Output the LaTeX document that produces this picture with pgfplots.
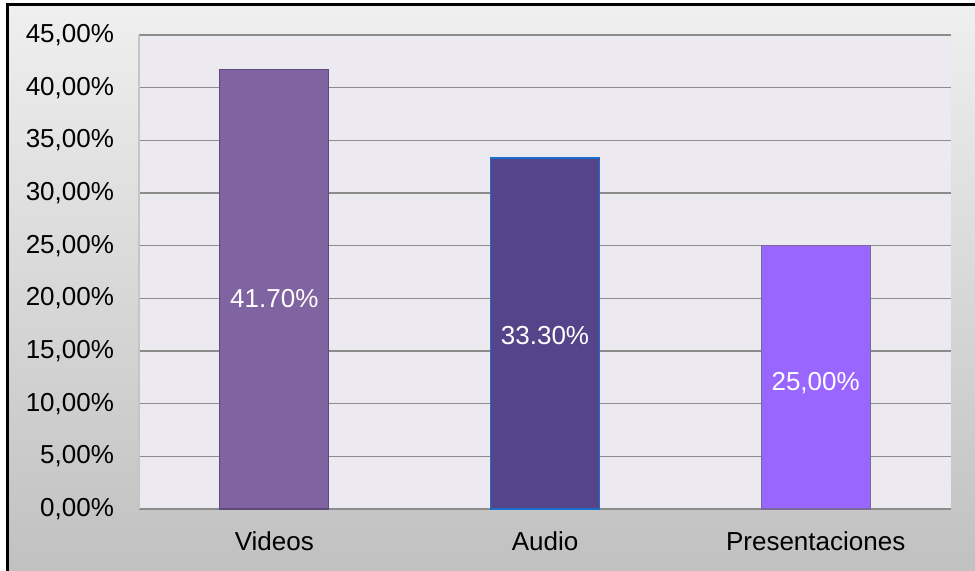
\documentclass[border=0pt]{standalone}
\usepackage{pgfplots}
\pgfplotsset{compat=1.18}
\usepackage{fontspec}
\setmainfont{Liberation Sans}
\definecolor{plotbg}{HTML}{ECEAF0}
\definecolor{gridc}{HTML}{8C8C8C}
\definecolor{cvid}{HTML}{8064A2}
\definecolor{cvidb}{HTML}{5F4B7A}
\definecolor{caud}{HTML}{55448A}
\definecolor{caudb}{HTML}{1A70C8}
\definecolor{cpre}{HTML}{9966FF}
\definecolor{cpreb}{HTML}{7A6A96}
\begin{document}
\begin{tikzpicture}[x=1pt,y=1pt]
\useasboundingbox (0,0) rectangle (487.5,285.5);
\shade[top color={rgb,255:red,239;green,239;blue,239}, bottom color={rgb,255:red,192;green,192;blue,192}] (3.5,283) rectangle (495,-5);
\draw[black, line width=1.5pt] (3.5,-5) -- (3.5,283) -- (495,283);
\begin{axis}[
  at={(69.5pt,31pt)}, anchor=south west,
  scale only axis, width=406pt, height=237pt,
  xmin=-0.5, xmax=2.5, ymin=0, ymax=45,
  axis background/.style={fill=plotbg},
  axis x line*=bottom, axis y line*=left,
  x axis line style={draw=gridc, line width=0.9pt, -},
  y axis line style={draw=gridc!50, line width=0.8pt, -},
  xtick={0,1,2}, xticklabels={Videos,Audio,Presentaciones},
  ytick={0,5,10,15,20,25,30,35,40,45},
  yticklabels={{0,00\%},{5,00\%},{10,00\%},{15,00\%},{20,00\%},{25,00\%},{30,00\%},{35,00\%},{40,00\%},{45,00\%}},
  tick style={draw=none},
  ymajorgrids, grid style={draw=gridc, line width=0.8pt},
  ticklabel style={font=\fontsize{13}{15}\selectfont, text=black},
  yticklabel style={xshift=-9pt},
  xticklabel style={yshift=-8pt},
  clip=false,
]
\addplot[ybar, bar width=54.5pt, fill=cvid, draw=cvidb, line width=0.6pt] coordinates {(0,41.7)};
\addplot[ybar, bar width=54.5pt, fill=caud, draw=caudb, line width=0.8pt] coordinates {(1,33.3)};
\addplot[ybar, bar width=54.5pt, fill=cpre, draw=cpreb, line width=0.6pt] coordinates {(2,25.0)};
\addplot[draw=none, mark=none, point meta=explicit symbolic,
  nodes near coords, nodes near coords align=center,
  every node near coord/.append style={font=\fontsize{13}{15}\selectfont, text=white, anchor=center}]
  table[meta=label] {
x y label
0 20.0 41.70\%
1 16.5 33.30\%
2 12.0 25,00\%
};
\end{axis}
\end{tikzpicture}
\end{document}
